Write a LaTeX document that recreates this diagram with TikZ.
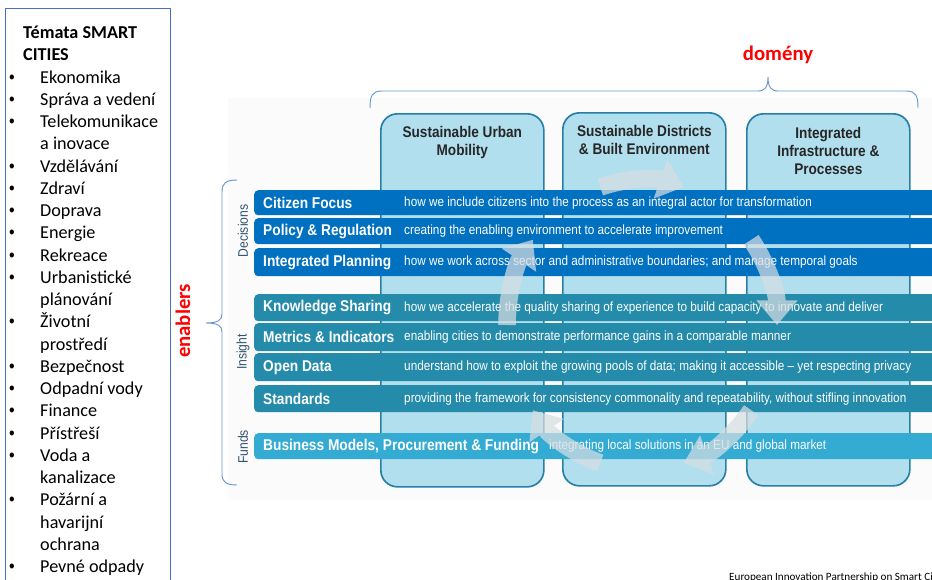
\documentclass[tikz,border=0pt]{standalone}
\usepackage{fontspec}
\setmainfont{Carlito}
\newfontfamily\narrowsf{Liberation Sans}[FakeStretch=0.88]
\usetikzlibrary{positioning,arrows.meta}

\definecolor{decblue}{RGB}{0,112,192}
\definecolor{insteal}{RGB}{36,139,171}
\definecolor{fundblue}{RGB}{52,171,211}
\definecolor{colfill}{RGB}{178,223,238}
\definecolor{coledge}{RGB}{38,128,165}
\definecolor{bracecol}{RGB}{105,150,210}
\definecolor{boxedge}{RGB}{68,114,196}
\definecolor{sidecol}{RGB}{50,85,110}
\definecolor{cyclecol}{RGB}{214,221,226}

\newcommand{\bul}{{\narrowsf •}}

\begin{document}
\begin{tikzpicture}[x=0.03cm,y=-0.03cm,
  colbox/.style={draw=coledge,line width=1.4pt,fill=colfill,rounded corners=0.5cm,minimum width=4.89cm,anchor=north west,inner sep=0pt},
  colhead/.style={font=\narrowsf\bfseries\fontsize{13.2}{15.3}\selectfont,align=center,text=black!85,inner sep=0pt},
  bar/.style={rounded corners=3.4pt,minimum width=20.9cm,anchor=north west,inner sep=0pt},
  bartitle/.style={font=\narrowsf\bfseries\fontsize{13.3}{15}\selectfont,text=white,inner sep=0pt,anchor=west},
  bardesc/.style={font=\narrowsf\fontsize{11.4}{13}\selectfont,text=white,inner sep=0pt,anchor=west},
  sidelabel/.style={font=\narrowsf\fontsize{11.8}{14}\selectfont,text=sidecol,rotate=90,inner sep=0pt},
  redlabel/.style={font=\bfseries\fontsize{17.7}{20}\selectfont,text=red,inner sep=0pt},
  cyc/.style={line width=15pt,draw=cyclecol,-{Triangle[length=21pt,width=34pt]}}]

\path[use as bounding box,clip] (0,0) rectangle (932,579);
\fill[gray!3] (228,98) rectangle (932,500);

\draw[boxedge,line width=0.8pt] (5,8) rectangle (170,600);
\node[anchor=base west,inner sep=0pt,font=\fontsize{15.5}{19.0}\selectfont] (topics) at (9,38.5) {%
\begin{tabular}[t]{@{}p{0.93cm}@{}l@{}}
\multicolumn{2}{@{\hspace{0.42cm}}l@{}}{\bfseries Témata SMART}\\
\multicolumn{2}{@{\hspace{0.42cm}}l@{}}{\bfseries CITIES}\\
\bul & Ekonomika\\
\bul & Správa a vedení\\
\bul & Telekomunikace\\
     & a inovace\\
\bul & Vzdělávání\\
\bul & Zdraví\\
\bul & Doprava\\
\bul & Energie\\
\bul & Rekreace\\
\bul & Urbanistické\\
     & plánování\\
\bul & Životní\\
     & prostředí\\
\bul & Bezpečnost\\
\bul & Odpadní vody\\
\bul & Finance\\
\bul & Přístřeší\\
\bul & Voda a\\
     & kanalizace\\
\bul & Požární a\\
     & havarijní\\
     & ochrana\\
\bul & Pevné odpady
\end{tabular}};

\node[colbox,minimum height=11.19cm] (c1) at (380,113) {};
\node[colbox,minimum height=11.19cm] (c2) at (562,112) {};
\node[colbox,minimum height=11.16cm] (c3) at (746,113) {};
\node[colhead,below=0.38cm of c1.north] (c1-h) {Sustainable Urban\\Mobility};
\node[colhead,below=0.39cm of c2.north] (c2-h) {Sustainable Districts\\\& Built Environment};
\node[colhead,below=0.42cm of c3.north] (c3-h) {Integrated\\Infrastructure \&\\Processes};

\coordinate (dx) at (404,0);
\coordinate (bx) at (549,0);

\node[bar,fill=decblue,minimum height=0.75cm] (cf) at (254,190) {};
\node[bar,fill=decblue,minimum height=0.78cm] (pr) at (254,218) {};
\node[bar,fill=decblue,minimum height=0.84cm] (ip) at (254,248) {};
\node[bar,fill=insteal,minimum height=0.81cm] (ks) at (254,294) {};
\node[bar,fill=insteal,minimum height=0.84cm] (mi) at (254,323) {};
\node[bar,fill=insteal,minimum height=0.84cm] (od) at (254,353) {};
\node[bar,fill=insteal,minimum height=0.81cm] (st) at (254,385) {};
\node[bar,fill=fundblue,minimum height=0.78cm] (bm) at (254,433) {};

\node[bartitle,right=0.27cm of cf.west] (cf-t) {Citizen Focus};
\node[bartitle,right=0.27cm of pr.west] (pr-t) {Policy \& Regulation};
\node[bartitle,right=0.27cm of ip.west] (ip-t) {Integrated Planning};
\node[bartitle,right=0.27cm of ks.west] (ks-t) {Knowledge Sharing};
\node[bartitle,right=0.27cm of mi.west] (mi-t) {Metrics \& Indicators};
\node[bartitle,right=0.27cm of od.west] (od-t) {Open Data};
\node[bartitle,right=0.27cm of st.west] (st-t) {Standards};
\node[bartitle,right=0.27cm of bm.west] (bm-t) {Business Models, Procurement \& Funding};

\node[bardesc] (cf-d) at (dx |- cf.west) {how we include citizens into the process as an integral actor for transformation};
\node[bardesc] (pr-d) at (dx |- pr.west) {creating the enabling environment to accelerate improvement};
\node[bardesc] (ip-d) at (dx |- ip.west) {how we work across sector and administrative boundaries; and manage temporal goals};
\node[bardesc] (ks-d) at (dx |- ks.west) {how we accelerate the quality sharing of experience to build capacity to innovate and deliver};
\node[bardesc] (mi-d) at (dx |- mi.west) {enabling cities to demonstrate performance gains in a comparable manner};
\node[bardesc] (od-d) at (dx |- od.west) {understand how to exploit the growing pools of data; making it accessible – yet respecting privacy};
\node[bardesc] (st-d) at (dx |- st.west) {providing the framework for consistency commonality and repeatability, without stifling innovation};
\node[bardesc] (bm-d) at (bx |- bm.west) {integrating local solutions in an EU and global market};

\begin{scope}[shift={(642,325)},y=0.03cm,transparency group,opacity=0.72]
\foreach \a in {180,108,36,-36,-108}
  \draw[cyc] (\a:135 and 145) arc[start angle=\a,end angle=\a-36,x radius=135,y radius=145];
\end{scope}

\node[sidelabel] (dec) at (243,231) {Decisions};
\node[sidelabel] (ins) at (243,352) {Insight};
\node[sidelabel] (fun) at (243,447) {Funds};

\draw[bracecol,line width=0.8pt] (370,108) .. controls (370,96) and (372,91) .. (382,91) -- (758,91) .. controls (765,91) and (768,87) .. (768,77) .. controls (768,87) and (771,91) .. (778,91) -- (906,91) .. controls (916,91) and (918,96) .. (918,108);
\draw[bracecol,line width=0.8pt] (237,180) .. controls (226,180) and (222,183) .. (222,192) -- (222,314) .. controls (222,320) and (218,323) .. (206,323) .. controls (218,323) and (222,326) .. (222,332) -- (222,474) .. controls (222,482) and (226,485) .. (237,485);

\node[redlabel,rotate=90] (en) at (183,321) {enablers};
\node[redlabel] (dom) at (778,55) {domény};

\node[anchor=north west,inner sep=0pt,font=\fontsize{9.5}{11}\selectfont] (eip) at (729,573) {European Innovation Partnership on Smart Cities and Communities};

\end{tikzpicture}
\end{document}
